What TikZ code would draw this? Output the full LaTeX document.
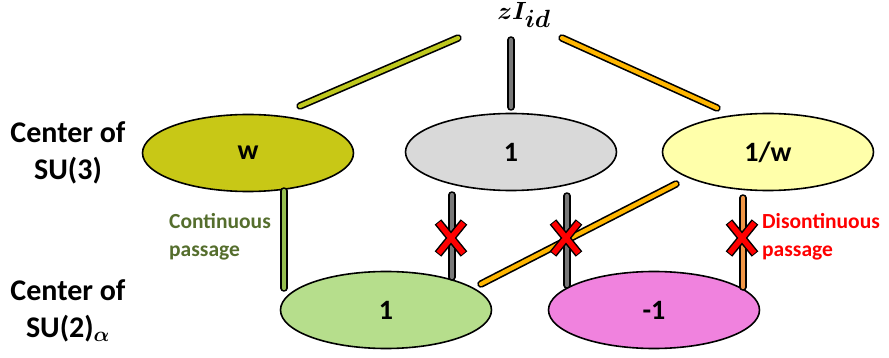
\documentclass[tikz,border=0pt]{standalone}
\usepackage{fontspec}
\setmainfont{Carlito}
\usepackage{amsmath,bm}
\usetikzlibrary{shapes.geometric}
\definecolor{cw}{RGB}{200,200,22}
\definecolor{cgray}{RGB}{217,217,217}
\definecolor{cinv}{RGB}{255,255,170}
\definecolor{cgreen}{RGB}{182,222,140}
\definecolor{cpink}{RGB}{240,130,222}
\definecolor{rodyg}{RGB}{190,200,30}
\definecolor{rodgray}{RGB}{120,120,120}
\definecolor{rodor}{RGB}{255,182,0}
\definecolor{rodlo}{RGB}{240,150,70}
\definecolor{rodgr}{RGB}{150,190,80}
\definecolor{olivetxt}{RGB}{85,110,45}
\begin{document}
\begin{tikzpicture}[x=1pt,y=-1pt,
  blob/.style={ellipse,draw=black,line width=1.6pt,inner sep=0pt,minimum width=211pt,minimum height=77pt,font=\bfseries\fontsize{28}{30}\selectfont},
  lbl/.style={font=\bfseries\fontsize{30}{37}\selectfont,align=center},
  note/.style={font=\bfseries\fontsize{21.5}{28}\selectfont,align=left}]
\useasboundingbox (0,0) rectangle (889,358);
\def\rod#1#2#3{\draw[line width=7.5pt,line cap=round,black] (#1) -- (#2);
  \draw[line width=4.2pt,line cap=round,#3] (#1) -- (#2);}
\def\xmark#1{\draw[line width=8.5pt,black,line cap=butt] ([shift={(-13,-16)}]#1) -- ([shift={(13,16)}]#1) ([shift={(13,-16)}]#1) -- ([shift={(-13,16)}]#1);
  \draw[line width=5.5pt,red,line cap=butt] ([shift={(-12.4,-15.2)}]#1) -- ([shift={(12.4,15.2)}]#1) ([shift={(12.4,-15.2)}]#1) -- ([shift={(-12.4,15.2)}]#1);}
% nodes
\node[blob,fill=cw] (w) at (248,153) {w};
\node[blob,fill=cgray] (one) at (511,152) {1};
\node[blob,fill=cinv] (inv) at (768,152) {1/w};
\node[blob,fill=cgreen] (b1) at (386,310) {1};
\node[blob,fill=cpink] (bm) at (654,310) {-1};
\node (z) at (524,15) {\fontsize{34}{36}\selectfont$\bm{zI_{id}}$};
\node[lbl] (c3) at (68,153) {Center of\\SU(3)};
\node[lbl] (c2) at (68,311) {Center of\\SU(2)$_{\bm{\alpha}}$};
\node[note,text=olivetxt] (cont) at (220,237) {Continuous\\passage};
\node[note,text=red] (disc) at (821,237) {Disontinuous\\passage};
% rod endpoints
\coordinate (a1) at (300,106); \coordinate (a2) at (458,38);
\coordinate (g1) at (511,40); \coordinate (g2) at (511,107);
\coordinate (o1) at (562,38); \coordinate (o2) at (717,108);
\coordinate (c1) at (284,191); \coordinate (c2b) at (284,288);
\coordinate (d1) at (452,195); \coordinate (d2) at (452,277);
\coordinate (e1) at (567,196); \coordinate (e2) at (567,285);
\coordinate (f1) at (481,284); \coordinate (f2) at (676,184);
\coordinate (h1) at (743,198); \coordinate (h2) at (743,287);
\rod{a1}{a2}{rodyg}
\rod{g1}{g2}{rodgray}
\rod{o1}{o2}{rodor}
\rod{c1}{c2b}{rodgr}
\rod{d1}{d2}{rodgray}
\rod{e1}{e2}{rodgray}
\rod{f1}{f2}{rodor}
\rod{h1}{h2}{rodlo}
\coordinate (x1) at (451,238);
\coordinate (x2) at (566,238);
\coordinate (x3) at (742,238);
\xmark{x1}
\xmark{x2}
\xmark{x3}
\end{tikzpicture}
\end{document}
